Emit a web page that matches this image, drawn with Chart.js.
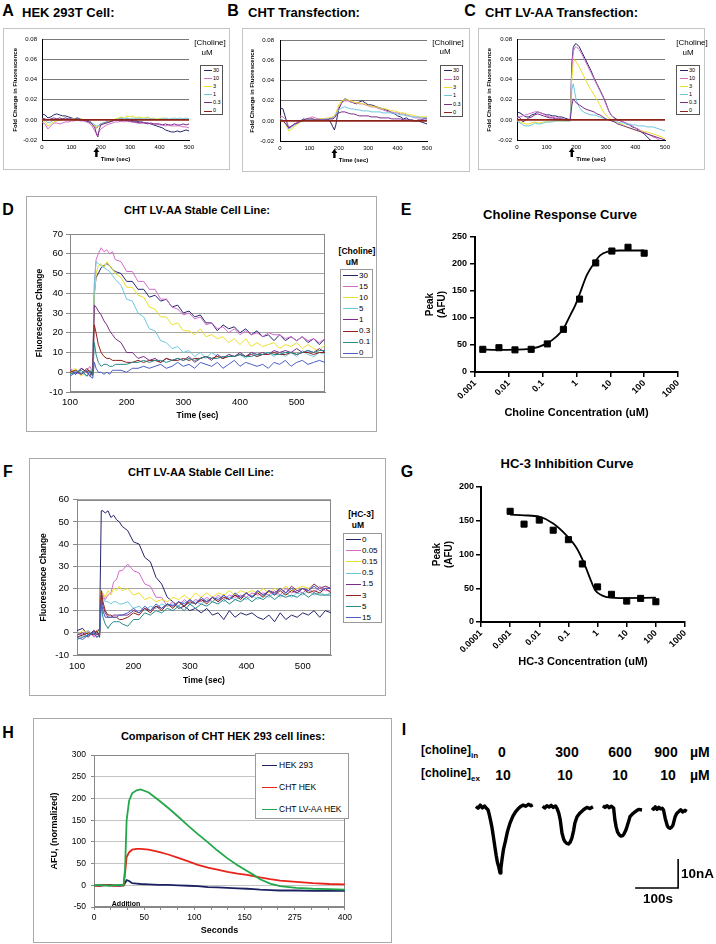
<!DOCTYPE html>
<html>
<head>
<meta charset="utf-8">
<script src="https://cdn.jsdelivr.net/npm/chart.js@4.4.1/dist/chart.umd.min.js"></script>
<style>
  body { margin: 0; background: #fff; }
  #page { position: relative; width: 716px; height: 944px; overflow: hidden; font-family: 'Liberation Sans', Arial, sans-serif; color: #000; }
  .box { position: absolute; border: 1px solid #c4c4c4; box-sizing: border-box; }
  canvas { position: absolute; }
  .t { position: absolute; white-space: nowrap; line-height: 1; }
  .c { transform: translate(-50%, -50%); }
  .l { transform: translate(0, -50%); }
  .b { font-weight: bold; }
  .legend { position: absolute; background: #fff; box-sizing: border-box; }
  .lrow { display: flex; align-items: center; white-space: nowrap; line-height: 1; }
  .ls { display: inline-block; height: 0; }
  sub { font-size: 8px; vertical-align: -4px; }
</style>
</head>
<body>
<div id="page">
  <!-- panel frames -->
  <div class="box" style="left:3px;top:28px;width:227px;height:142px"></div>
  <div class="box" style="left:242px;top:28px;width:228px;height:144px"></div>
  <div class="box" style="left:478px;top:28px;width:227px;height:142px"></div>
  <div class="box" style="left:26px;top:196px;width:351px;height:236px;border-color:#aaa"></div>
  <div class="box" style="left:29px;top:458px;width:357px;height:238px;border-color:#aaa"></div>
  <div class="box" style="left:33px;top:718px;width:359px;height:225px;border-color:#aaa"></div>

  <canvas id="chartA" width="222" height="136" style="left:6px;top:31px"></canvas>
  <canvas id="chartB" width="222" height="138" style="left:244px;top:31px"></canvas>
  <canvas id="chartC" width="222" height="136" style="left:481px;top:31px"></canvas>
  <canvas id="chartD" width="306" height="205" style="left:28px;top:225px"></canvas>
  <canvas id="chartE" width="290" height="200" style="left:422px;top:226px"></canvas>
  <canvas id="chartF" width="310" height="204" style="left:30px;top:490px"></canvas>
  <canvas id="chartG" width="290" height="195" style="left:422px;top:477px"></canvas>
  <canvas id="chartH" width="320" height="196" style="left:35px;top:745px"></canvas>
  <canvas id="chartI" width="296" height="150" style="left:420px;top:790px"></canvas>

  <!-- panel letters and titles -->
  <div class="t c b" style="left:8px;top:11px;font-size:16px">A</div>
  <div class="t l b" style="left:22px;top:12px;font-size:13px">HEK 293T Cell:</div>
  <div class="t c b" style="left:233px;top:11px;font-size:16px">B</div>
  <div class="t l b" style="left:248px;top:12px;font-size:13px">CHT Transfection:</div>
  <div class="t c b" style="left:470px;top:11px;font-size:16px">C</div>
  <div class="t l b" style="left:485px;top:12px;font-size:13px">CHT LV-AA Transfection:</div>

  <div class="t c b" style="left:8px;top:210px;font-size:16px">D</div>
  <div class="t c b" style="left:197px;top:210px;font-size:11px">CHT LV-AA Stable Cell Line:</div>
  <div class="t c b" style="left:406px;top:210px;font-size:16px">E</div>
  <div class="t c b" style="left:560px;top:214px;font-size:13px">Choline Response Curve</div>
  <div class="t c b" style="left:8px;top:472px;font-size:16px">F</div>
  <div class="t c b" style="left:201px;top:472px;font-size:11px">CHT LV-AA Stable Cell Line:</div>
  <div class="t c b" style="left:407px;top:472px;font-size:16px">G</div>
  <div class="t c b" style="left:567px;top:463px;font-size:13px">HC-3 Inhibition Curve</div>
  <div class="t c b" style="left:8px;top:733px;font-size:16px">H</div>
  <div class="t c b" style="left:223px;top:736px;font-size:11px">Comparison of CHT HEK 293 cell lines:</div>
  <div class="t c b" style="left:404px;top:730px;font-size:16px">I</div>

  <!-- legend headings -->
  <div class="t c" style="left:210px;top:43px;font-size:8px">[Choline]</div>
  <div class="t c" style="left:207px;top:53px;font-size:8px">uM</div>
  <div class="t c" style="left:448px;top:43px;font-size:8px">[Choline]</div>
  <div class="t c" style="left:445px;top:52px;font-size:8px">uM</div>
  <div class="t c" style="left:692px;top:43px;font-size:8px">[Choline]</div>
  <div class="t c" style="left:688px;top:53px;font-size:8px">uM</div>
  <div class="t c b" style="left:357px;top:251px;font-size:8.5px">[Choline]</div>
  <div class="t c b" style="left:352px;top:262px;font-size:8.5px">uM</div>
  <div class="t c b" style="left:361px;top:514px;font-size:8.5px">[HC-3]</div>
  <div class="t c b" style="left:358px;top:525px;font-size:8.5px">uM</div>

  <div id="legA" class="legend" style="left:200px;top:65px;width:23px;height:50px;border:1px solid #555"></div>
  <div id="legB" class="legend" style="left:440px;top:65px;width:23px;height:52px;border:1px solid #555"></div>
  <div id="legC" class="legend" style="left:676px;top:65px;width:24px;height:50px;border:1px solid #555"></div>
  <div id="legD" class="legend" style="left:340px;top:269px;width:33px;height:89px;border:1px solid #999"></div>
  <div id="legF" class="legend" style="left:343px;top:533px;width:39px;height:90px;border:1px solid #999"></div>
  <div id="legH" class="legend" style="left:255px;top:753px;width:94px;height:66px;border:1px solid #999"></div>

  <div class="t c b" style="left:126px;top:903px;font-size:7px">Addition</div>

  <!-- panel I labels -->
  <div class="t l b" style="left:421px;top:752px;font-size:12px">[choline]<sub>in</sub></div>
  <div class="t c b" style="left:502px;top:752px;font-size:14px">0</div>
  <div class="t c b" style="left:567px;top:752px;font-size:14px">300</div>
  <div class="t c b" style="left:620px;top:752px;font-size:14px">600</div>
  <div class="t c b" style="left:666px;top:752px;font-size:14px">900</div>
  <div class="t l b" style="left:690px;top:752px;font-size:14px">&micro;M</div>
  <div class="t l b" style="left:421px;top:775px;font-size:12px">[choline]<sub>ex</sub></div>
  <div class="t c b" style="left:503px;top:775px;font-size:14px">10</div>
  <div class="t c b" style="left:565px;top:775px;font-size:14px">10</div>
  <div class="t c b" style="left:620px;top:775px;font-size:14px">10</div>
  <div class="t c b" style="left:668px;top:775px;font-size:14px">10</div>
  <div class="t l b" style="left:690px;top:775px;font-size:14px">&micro;M</div>
  <div class="t l b" style="left:681px;top:874px;font-size:13.5px">10nA</div>
  <div class="t c b" style="left:658px;top:899px;font-size:13.5px">100s</div>
</div>

<script>
// ---------- panels A-C: fold change in fluorescence (values in thousandths) ----------
const timeABC = [0,10,20,30,40,50,60,70,80,90,100,110,120,130,140,150,160,170,180,185,190,195,200,210,220,230,240,250,260,270,280,290,300,310,320,330,340,350,360,370,380,390,400,410,420,430,440,450,460,470,480,490,500];
const zeroT = [0, 500];
const zeroV = [0, 0];
const cholineABC = ["30", "10", "3", "1", "0.3", "0"];
const foldTicks = [-0.02, -0.01, 0, 0.01, 0.02, 0.03, 0.04, 0.05, 0.06, 0.07, 0.08];
const timeTicksABC = [0, 100, 200, 300, 400, 500];
const additionTime = 185;

const a30 = [6,5,2,3,5,6,5,4,4,3,2,1,2,1,0,0,-1,-3,-6, -8,-7,-5, -4,-3,-2,-2,-1,0,0,1,0,1,0,-1,-1,-2,-2,-3,-3,-4,-5,-6,-7,-8,-10,-11,-12,-12,-11,-12,-11,-10,-11];
const a10 = [-2,-4,-9,-6,-3,-3,-4,-3,-2,-2,-1,-1,0,-1,-1,-2,-3,-6,-11, -13,-15,-11, -9,-7,-5,-4,-3,-2,-2,-1,-2,-1,-2,-2,-3,-3,-2,-3,-3,-4,-4,-4,-5,-5,-6,-5,-6,-6,-6,-6,-7,-7,-8];
const a3 = [0,-2,-6,-4,-2,-1,0,1,1,0,1,1,0,1,0,-1,-2,-3,-6, -8,-7,-6, -5,-4,-3,-1,0,1,2,3,2,4,3,4,2,3,2,2,3,1,2,1,1,2,1,0,1,0,1,0,1,0,0];
const a1 = [1,0,-3,-2,0,1,0,1,0,1,1,0,1,0,0,-1,-2,-3,-5, -6,-6,-5, -4,-3,-3,-2,-1,0,1,2,1,2,1,2,1,2,1,1,2,1,1,0,1,1,2,1,1,2,1,2,1,2,1];
const a03 = [2,1,0,1,2,1,2,1,2,1,1,0,1,0,0,-1,-2,-4,-8, -14,-17,-9, -5,-4,-3,-2,-1,0,0,-1,0,-1,-1,-2,-2,-3,-3,-3,-4,-3,-4,-4,-4,-5,-4,-5,-5,-4,-5,-5,-4,-5,-4];

const b30 = [13,12,2,-8,-5,-3,-2,0,2,1,1,2,1,2,1,1,1,0,-6, -9,-4,5, 12,18,22,21,19,18,17,19,20,18,16,16,15,14,13,12,11,10,8,7,5,4,2,3,1,1,0,0,-1,-2,-3];
const b10 = [5,4,1,-6,-5,-3,-1,0,1,2,3,4,3,2,2,2,2,3,4, 5,7,10, 14,18,20,20,19,18,18,17,17,16,15,14,14,13,12,11,10,9,9,8,8,7,7,6,5,4,3,3,3,3,3];
const b3 = [3,1,-4,-10,-8,-5,-3,-1,0,1,1,2,1,2,2,2,3,3,4, 5,8,12, 16,20,21,21,20,19,18,18,17,17,15,15,14,14,13,12,12,11,10,10,9,8,8,7,6,6,5,4,4,4,4];
const b1 = [2,1,-3,-8,-6,-4,-2,-1,0,1,1,1,1,1,1,2,2,2,3, 4,6,9, 11,13,14,13,12,12,11,11,10,10,10,9,9,9,9,8,8,8,8,7,7,6,6,5,5,4,4,4,3,3,3];
const b03 = [1,0,-3,-7,-5,-3,-2,0,1,2,2,2,1,1,1,1,1,2,2, 3,5,7, 8,9,9,8,7,7,6,5,5,5,5,4,4,4,3,3,3,3,2,2,2,2,1,1,1,0,0,1,1,2,2];

const c30 = [8,7,5,3,3,5,6,8,7,6,5,5,4,4,3,3,2,1,0, 55,72,75, 76,73,67,61,55,49,42,36,30,24,17,9,4,2,0,-1,-2,-4,-5,-7,-8,-10,-12,-14,-17,-20,-22,-24,-26,-28,-30];
const c10 = [2,3,4,5,6,7,8,8,7,6,4,3,3,2,2,1,1,0,0, 50,68,72, 73,70,65,59,53,47,41,35,29,23,16,9,4,1,0,-1,-2,-3,-5,-6,-8,-9,-11,-12,-14,-15,-17,-18,-20,-22,-24];
const c3 = [0,-2,-3,-4,-4,-3,-2,-3,-3,-2,-2,-2,-1,-1,-1,-1,-1,-1,-1, 40,57,60, 58,53,47,41,35,30,25,20,15,9,5,2,0,-2,-3,-4,-5,-7,-8,-9,-10,-11,-11,-12,-12,-13,-14,-15,-16,-17,-19];
const c1 = [-1,-3,-5,-6,-6,-5,-3,-4,-4,-3,-2,-2,-2,-1,-1,-1,-1,-1,-1, 30,36,28, 20,13,9,7,6,5,5,4,3,2,1,0,-1,-2,-2,-3,-3,-4,-4,-5,-5,-6,-6,-6,-7,-7,-7,-8,-9,-10,-11];
const c03 = [4,2,-2,0,2,3,5,6,5,4,3,2,2,1,1,1,0,0,0, 14,21,19, 17,15,13,11,10,9,8,6,5,3,1,0,-1,-2,-4,-5,-6,-7,-8,-9,-10,-11,-12,-13,-14,-15,-16,-17,-18,-19,-20];

// ---------- panels D and F: stable cell line, fluorescence change ----------
const timeStable = [100,110,120,130,135,140,143,146,150,155,160,165,170,175,180,190,200,210,220,230,240,250,260,270,280,290,300,310,320,330,340,350,360,370,380,390,400,410,420,430,440,450,460,470,480,490,500,510,520,530,540,550];
const stableTimeTicks = [100, 200, 300, 400, 500];
const choline = ["30", "15", "10", "5", "1", "0.3", "0.1", "0"];
const d30 = [1,-1,2,0,1,-1, 40,48,50,53,54,55,54,52,51, 50,46,46,42,42,38,39,36,37,33,34,30,31,28,29,25,25,21,24,22,23,20,22,19,21,18,19,16,19,16,18,16,18,15,17,14,17];
const d15 = [2,0,-1,1,3,0, 45,57,60,63,61,62,60,61,57, 56,51,51,46,46,42,42,37,37,33,32,29,30,27,28,24,25,22,23,20,22,19,21,19,20,18,20,19,19,17,18,16,18,16,17,15,17];
const d10 = [0,2,-2,1,0,-2, 38,50,54,55,53,56,54,52,50, 48,43,43,39,38,33,32,28,28,24,25,21,21,19,22,18,19,17,18,15,17,14,17,13,15,13,14,15,12,14,13,15,12,14,12,11,14];
const d5 = [-1,1,0,-2,1,0, 45,56,55,54,53,52,51,49,47, 44,37,36,30,28,22,21,16,15,12,13,10,11,8,10,7,10,8,7,9,8,9,7,10,8,9,10,8,10,8,10,8,11,9,8,10,9];
const d1 = [1,-1,2,0,-2,1, 34,33,31,29,26,24,21,19,17, 15,10,10,7,8,6,7,5,7,6,7,6,8,5,7,8,6,9,7,9,8,10,8,10,9,10,9,11,10,11,10,12,10,11,10,12,10];
const d03 = [0,1,-1,2,0,-1, 24,20,14,10,8,7,7,6,6, 6,5,5,6,5,6,6,5,7,6,6,7,6,7,7,8,7,8,7,8,8,9,8,9,8,9,9,10,9,9,10,9,10,10,9,10,10];
const d01 = [-1,0,1,-2,0,-2, 15,9,5,3,4,4,3,3,4, 4,4,5,5,6,5,6,6,5,6,7,6,7,6,7,8,7,7,8,8,8,9,8,8,9,9,10,9,9,10,10,9,10,11,10,11,11];
const d0 = [-2,0,-1,1,-2,-3, 5,2,0,0,-1,0,-1,1,1, 1,0,2,2,3,2,3,4,2,3,5,3,4,2,5,4,3,5,2,4,6,3,5,4,3,4,2,5,4,6,3,5,6,4,5,6,5];
const stableTicksD = [-10, 0, 10, 20, 30, 40, 50, 60, 70];

const hc3 = ["0", "0.05", "0.15", "0.5", "1.5", "3", "5", "15"];
const f0 = [1,2,-1,1,0,2, 55,55,54,55,52,53,51,50,48, 46,41,40,34,32,25,22,16,14,11,12,10,11,9,11,8,9,6,10,7,9,8,9,7,6,8,5,9,6,8,7,9,8,10,7,10,9];
const f005 = [0,-1,1,-2,0,-1, 19,17,15,17,18,23,24,28,28, 31,28,27,22,21,16,16,12,14,12,15,13,15,14,16,14,17,15,17,16,17,16,18,17,18,17,19,17,20,18,19,18,20,18,21,19,19];
const f015 = [-1,1,0,-1,1,0, 19,18,16,19,17,20,19,21,19, 20,17,18,15,16,14,15,14,16,15,17,15,18,16,18,16,18,17,19,17,19,18,19,18,20,18,20,19,21,19,20,21,20,22,20,21,20];
const f05 = [0,-2,1,-1,0,-2, 17,16,14,14,13,14,14,13,13, 14,11,12,10,12,11,13,12,13,12,14,13,14,13,15,14,16,14,16,15,16,15,17,15,17,16,18,16,18,16,18,17,19,17,18,17,18];
const f15 = [-1,0,-2,1,-1,0, 17,12,9,7,7,8,8,8,8, 8,10,9,11,10,12,11,13,12,14,12,15,13,15,14,16,14,17,15,17,16,18,16,19,17,19,18,20,18,21,19,20,19,22,20,21,20];
const f3 = [-2,-1,0,-1,1,-2, 19,14,10,8,8,7,7,6,6, 7,9,8,11,9,12,10,13,11,14,12,14,13,15,13,16,14,16,15,17,15,18,16,18,16,19,17,19,17,19,18,20,18,19,18,20,18];
const f5 = [-3,-2,-1,0,-2,-1, 13,7,4,2,4,5,5,5,4, 3,6,6,9,8,10,9,11,10,12,10,13,11,13,12,14,13,15,13,15,14,16,14,16,15,17,15,17,16,17,16,18,16,18,17,17,17];
const f15b = [-2,-3,-1,0,-2,-1, 14,10,7,7,7,7,7,8,8, 9,11,9,12,10,13,11,13,12,14,13,15,13,16,14,16,15,17,15,18,16,18,16,19,17,19,17,20,18,20,18,20,19,21,19,20,20];
const stableTicksF = [-10, 0, 10, 20, 30, 40, 50, 60];

// ---------- panels E and G: dose-response ----------
const eConc = [0.0017, 0.0051, 0.0152, 0.0457, 0.137, 0.41, 1.23, 3.7, 11.1, 33.3, 100];
const ePeak = [42, 45, 41, 42, 52, 79, 135, 202, 224, 231, 220];
const eFitConc = [0.0016, 0.0044, 0.043, 0.126, 0.26, 0.41, 0.65, 0.91, 1.3, 2.0, 3.2, 5.0, 8.7, 19.5, 100];
const eFitPeak = [42, 41, 43, 52, 66, 80, 105, 123, 148, 179, 200, 216, 223, 225, 225];
const eXTicks = [0.001, 0.01, 0.1, 1, 10, 100, 1000];
const eXLabels = ["0.001", "0.01", "0.1", "1", "10", "100", "1000"];
const eYTicks = [0, 50, 100, 150, 200, 250];

const gConc = [0.001, 0.003, 0.01, 0.03, 0.1, 0.3, 1, 3, 10, 30, 100];
const gPeak = [164, 145, 151, 136, 122, 86, 52, 41, 31, 35, 30];
const gFitConc = [0.001, 0.003, 0.01, 0.03, 0.087, 0.195, 0.33, 0.56, 0.83, 1.4, 2.7, 6, 100];
const gFitPeak = [159, 158, 156, 146, 128, 109, 89, 64, 47, 39.5, 36, 35.5, 36];
const gXTicks = [0.0001, 0.001, 0.01, 0.1, 1, 10, 100, 1000];
const gXLabels = ["0.0001", "0.001", "0.01", "0.1", "1", "10", "100", "1000"];
const gYTicks = [0, 50, 100, 150, 200];

// ---------- panel H: cell line comparison (x in axis-label intervals) ----------
const hPos = [0,0.1,0.2,0.3,0.4,0.5,0.59,0.62,0.65,0.70,0.76,0.85,0.93,1.09,1.29,1.48,1.68,1.88,2.07,2.27,2.46,2.66,2.86,3.05,3.18,3.31,3.51,3.71,4.03,4.36,4.69,5.0];
const hHek = [0,-1,0,1,0,-1,0, 5,12,10,5,4,3,2,1,1,0,-1,-2,-4,-5,-6,-7,-8,-9,-10,-11,-12,-12,-13,-13,-13];
const hCht = [0,-1,1,0,-1,0,0, 30,65,76,82,84,84,82,77,71,63,55,47,41,36,31,27,24,21,18,14,11,8,5,3,2];
const hLvaa = [0,1,0,-1,0,1,0, 40,150,195,212,219,221,214,196,178,158,137,118,99,80,62,46,33,24,14,4,-2,-6,-8,-9,-10];
const hNames = ["HEK 293", "CHT HEK", "CHT LV-AA HEK"];
const hXLabels = ["0", "50", "100", "150", "275", "400"];
const hYTicks = [-50, 0, 50, 100, 150, 200, 250, 300];

// ---------- panel I: currents (s, nA) ----------
const i1T = [130,135,140,145,150,155,158,161,164,167,170,174,177,180,183,186,188,191,194,198,203,209,216,222,228,234,240,246,252,258,262];
const i1A = [0.3,-0.3,0.8,-0.2,0.5,-0.4,-0.8,-2.5,-4.5,-6.7,-9.5,-13.6,-16.5,-19,-20.5,-22.6,-21,-17.5,-14.5,-12,-8.5,-5.5,-3,-1.5,-0.5,0.3,0.8,0.4,1.1,0.6,0.9];
const i2T = [285,290,295,300,305,310,315,319,323,326,330,334,337,341,345,349,353,357,360,365,372,380,388,395,402];
const i2A = [0.4,-0.2,0.6,0.1,0.7,0,0.5,-0.5,-2.2,-4.3,-8.8,-11,-11.8,-12.4,-12.6,-12,-10.6,-8,-5.4,-3.2,-1.9,-0.8,0,-0.4,0.2];
const i3T = [425,430,435,440,445,450,453,456,459,463,467,471,474,478,481,485,488,494,500,508,516];
const i3A = [0.5,0,0.6,-0.1,0.4,-0.2,-4.3,-6.8,-8.4,-9.4,-9.9,-9.7,-9.2,-8,-6.7,-4.8,-3.2,-2.2,-1.5,-0.7,-0.9];
const i4T = [539,543,547,551,555,559,563,566,570,575,578,581,585,588,593,597,601,606,611,616,620];
const i4A = [-0.1,-0.6,0.2,-0.7,0,-0.5,-0.3,-0.9,-3.8,-6.4,-7,-7.2,-6.8,-6.1,-3.2,-2,-1.5,-0.8,-1.6,-1,-1.4];
const scaleBarSec = 100;
const scaleBarNA = 10;
const scaleBarCorner = { t: 600, nA: -27.8 };

const NAVY = "#25256e", PINK = "#d46ccc", YELLOW = "#ebdf2a", CYAN = "#6ec6dc", PURPLE = "#7a2c88";
const DARKRED = "#8c2218", TEAL = "#2a8a8c", BLUE = "#4a5ec4";
const colorsABC = [NAVY, PINK, YELLOW, CYAN, PURPLE, DARKRED];
const colorsStable = [NAVY, PINK, YELLOW, CYAN, PURPLE, DARKRED, TEAL, BLUE];
const colorsH = ["#1c2260", "#e8241c", "#22a84a"];

Chart.defaults.font.family = "'Liberation Sans', Arial, sans-serif";
Chart.defaults.color = "#000";
Chart.defaults.animation = false;
Chart.defaults.responsive = false;
Chart.defaults.plugins.legend.display = false;
Chart.defaults.plugins.tooltip.enabled = false;

const plotFrame = {
  id: "plotFrame",
  beforeDatasetsDraw(chart, args, opts) {
    if (!opts || !opts.color) return;
    const a = chart.chartArea;
    const ctx = chart.ctx;
    ctx.save();
    ctx.strokeStyle = opts.color;
    ctx.lineWidth = 1;
    ctx.strokeRect(Math.round(a.left) + 0.5, Math.round(a.top) + 0.5, Math.round(a.width) - 1, Math.round(a.height) - 1);
    ctx.restore();
  },
};

// small black arrow under the time axis marking choline addition
const addArrow = {
  id: "addArrow",
  afterDraw(chart, args, opts) {
    if (!opts || opts.at == null) return;
    const ctx = chart.ctx;
    const x = chart.scales.x.getPixelForValue(opts.at);
    const y = chart.chartArea.bottom + 8;
    ctx.save();
    ctx.fillStyle = "#000";
    ctx.beginPath();
    ctx.moveTo(x, y);
    ctx.lineTo(x - 3, y + 4);
    ctx.lineTo(x + 3, y + 4);
    ctx.closePath();
    ctx.fill();
    ctx.fillRect(x - 1.2, y + 4, 2.4, 5);
    ctx.restore();
  },
};
Chart.register(plotFrame, addArrow);

function fixedTicks(values) {
  return (scale) => { scale.ticks = values.map((v) => ({ value: v })); };
}

function traceChart(id, series, cfg) {
  const datasets = series.map((s, i) => ({
    data: s.t.map((t, k) => ({ x: t, y: s.v[k] * (cfg.unit || 1) })),
    borderColor: s.color,
    borderWidth: s.width || cfg.lineWidth || 1,
    pointRadius: 0,
    tension: 0,
    order: -i,
  }));
  return new Chart(document.getElementById(id), {
    type: "line",
    data: { datasets },
    options: {
      layout: { padding: { top: cfg.padTop, right: cfg.padRight, left: 0, bottom: 0 } },
      plugins: { plotFrame: { color: cfg.frame }, addArrow: { at: cfg.arrowAt } },
      scales: {
        x: {
          type: "linear", min: cfg.x.min, max: cfg.x.max,
          afterBuildTicks: fixedTicks(cfg.x.ticks),
          afterFit: (s) => { s.height = cfg.xH; },
          ticks: { font: { size: cfg.tickSize }, padding: cfg.xPad, maxRotation: 0, autoSkip: false, callback: cfg.x.fmt || ((v) => String(v)) },
          grid: { drawOnChartArea: false, drawTicks: !!cfg.x.tl, tickLength: cfg.x.tl || 0, color: cfg.axis },
          border: { display: true, color: cfg.axis },
          title: { display: true, text: cfg.x.title, font: { size: cfg.titleSize, weight: "bold" }, padding: { top: 0, bottom: cfg.x.titlePad } },
        },
        y: {
          type: "linear", min: cfg.y.min, max: cfg.y.max,
          afterBuildTicks: fixedTicks(cfg.y.ticks),
          afterFit: (s) => { s.width = cfg.yW; },
          ticks: { font: { size: cfg.tickSize }, padding: cfg.yPad, callback: cfg.y.fmt || ((v) => String(v)) },
          grid: { color: cfg.grid, lineWidth: 1, drawTicks: !!cfg.y.tl, tickLength: cfg.y.tl || 0, tickColor: cfg.axis },
          border: { display: true, color: cfg.axis },
          title: { display: true, text: cfg.y.title, font: { size: cfg.titleSize, weight: "bold" }, padding: { top: cfg.y.titlePad, bottom: 0 } },
        },
      },
    },
  });
}

function legend(boxId, labels, colors, o) {
  const box = document.getElementById(boxId);
  box.style.paddingTop = (o.top || 0) + "px";
  labels.forEach((lab, i) => {
    const row = document.createElement("div");
    row.className = "lrow";
    row.style.height = o.rowH + "px";
    row.innerHTML = `<span class="ls" style="width:${o.sampleW}px;margin-left:${o.sampleX}px;border-top:${o.lw}px solid ${colors[i]}"></span>` +
      `<span style="font-size:${o.font}px;margin-left:${o.gap}px">${lab}</span>`;
    box.appendChild(row);
  });
}

// ----- A, B, C -----
function abcSeries(v30, v10, v3, v1, v03) {
  return [v30, v10, v3, v1, v03].map((v, i) => ({ t: timeABC, v, color: colorsABC[i] }))
    .concat([{ t: zeroT, v: zeroV, color: DARKRED, width: 1.8 }]);
}
function abcConfig(padRight, xH, yTitlePad, xTitlePad, yPad) {
  return {
    unit: 0.001, padTop: 8, padRight, yW: 36, xH, tickSize: 6, titleSize: 6,
    grid: "#7a7a7a", axis: "#000", arrowAt: additionTime, xPad: 4, yPad,
    x: { min: 0, max: 500, ticks: timeTicksABC, title: "Time (sec)", titlePad: xTitlePad },
    y: { min: -0.02, max: 0.08, ticks: foldTicks, fmt: (v) => v.toFixed(2), title: "Fold Change in Fluorescence", titlePad: yTitlePad },
  };
}
traceChart("chartA", abcSeries(a30, a10, a3, a1, a03), abcConfig(39, 27, 5.4, 4.4, 5));
traceChart("chartB", abcSeries(b30, b10, b3, b1, b03), abcConfig(39, 28, 4.4, 4.7, 6));
traceChart("chartC", abcSeries(c30, c10, c3, c1, c03), abcConfig(38, 27, 4.7, 4.1, 5));
legend("legA", cholineABC, colorsABC, { rowH: 8.1, top: 0.5, sampleX: 3, sampleW: 8, lw: 1, gap: 1, font: 5.5 });
legend("legB", cholineABC, colorsABC, { rowH: 8.4, top: 0.5, sampleX: 3, sampleW: 8, lw: 1, gap: 1, font: 5.5 });
legend("legC", cholineABC, colorsABC, { rowH: 8.1, top: 0.5, sampleX: 3, sampleW: 8, lw: 1, gap: 1, font: 5.5 });

// ----- D, F -----
const stableBase = {
  padTop: 9, padRight: 9, tickSize: 9.5, titleSize: 8.5, grid: "#a6a6a6", axis: "#888", frame: "#888",
};
traceChart("chartD", [d30, d15, d10, d5, d1, d03, d01, d0].map((v, i) => ({ t: timeStable, v, color: colorsStable[i] })), {
  ...stableBase, yW: 42, xH: 38, xPad: 5, yPad: 3,
  x: { min: 100, max: 550, ticks: stableTimeTicks, title: "Time (sec)", titlePad: 8.9 },
  y: { min: -10, max: 70, ticks: stableTicksD, tl: 4, title: "Fluorescence Change", titlePad: 6.9 },
});
traceChart("chartF", [f0, f005, f015, f05, f15, f3, f5, f15b].map((v, i) => ({ t: timeStable, v, color: colorsStable[i] })), {
  ...stableBase, yW: 47, xH: 39, xPad: 6, yPad: 4,
  x: { min: 100, max: 550, ticks: stableTimeTicks, title: "Time (sec)", titlePad: 7.9 },
  y: { min: -10, max: 60, ticks: stableTicksF, tl: 4, title: "Fluorescence Change", titlePad: 8.2 },
});
legend("legD", choline, colorsStable, { rowH: 11.1, top: 0, sampleX: 2, sampleW: 15, lw: 1.2, gap: 1, font: 8 });
legend("legF", hc3, colorsStable, { rowH: 11.2, top: 0, sampleX: 2, sampleW: 15, lw: 1.2, gap: 1, font: 8 });

// ----- H -----
const hTickPos = [];
hXLabels.forEach((_, i) => { hTickPos.push(i); if (i < hXLabels.length - 1) hTickPos.push(i + 1 / 3, i + 2 / 3); });
traceChart("chartH", [hHek, hCht, hLvaa].map((v, i) => ({ t: hPos, v, color: colorsH[i], width: 1.8 })), {
  padTop: 8, padRight: 6, yW: 59, xH: 34, tickSize: 8.5, titleSize: 9, grid: "#c4c4c4", axis: "#888", frame: "#888",
  xPad: 3, yPad: 5,
  x: { min: 0, max: hXLabels.length - 1, ticks: hTickPos, tl: 3, fmt: (v, i) => (i % 3 === 0 ? hXLabels[i / 3] : ""), title: "Seconds", titlePad: 4.6 },
  y: { min: -50, max: 300, ticks: hYTicks, tl: 3, title: "AFU, (normalized)", titlePad: 14.6 },
});
legend("legH", hNames, colorsH, { rowH: 22, top: 0, sampleX: 6, sampleW: 15, lw: 1.8, gap: 2, font: 8.5 });

// ----- E, G -----
function doseChart(id, conc, peak, fitConc, fitPeak, cfg) {
  const axisGrid = { drawOnChartArea: false, drawTicks: true, tickLength: 5, color: "#000", lineWidth: 1.5 };
  return new Chart(document.getElementById(id), {
    type: "scatter",
    data: {
      datasets: [
        { data: conc.map((c, i) => ({ x: c, y: peak[i] })), pointStyle: "rect", pointRadius: 4.3, backgroundColor: "#000", borderColor: "#000", showLine: false },
        { data: fitConc.map((c, i) => ({ x: c, y: fitPeak[i] })), showLine: true, pointRadius: 0, borderColor: "#000", borderWidth: 1.8, cubicInterpolationMode: "monotone" },
      ],
    },
    options: {
      layout: { padding: { top: cfg.padTop, right: cfg.padRight, left: 0, bottom: 0 } },
      scales: {
        x: {
          type: "logarithmic", min: cfg.xTicks[0], max: cfg.xTicks[cfg.xTicks.length - 1],
          afterBuildTicks: fixedTicks(cfg.xTicks),
          afterFit: (s) => { s.height = cfg.xH; },
          ticks: { autoSkip: false, minRotation: 45, maxRotation: 45, font: { size: 9, weight: "bold" }, padding: 1, callback: (v, i) => cfg.xLabels[i] },
          grid: axisGrid,
          border: { color: "#000", width: 2 },
          title: { display: true, text: cfg.xTitle, font: { size: 11, weight: "bold" }, padding: { top: 0, bottom: cfg.xTitlePad } },
        },
        y: {
          min: 0, max: cfg.yTicks[cfg.yTicks.length - 1],
          afterBuildTicks: fixedTicks(cfg.yTicks),
          afterFit: (s) => { s.width = cfg.yW; },
          ticks: { font: { size: 9, weight: "bold" }, padding: cfg.yPad },
          grid: axisGrid,
          border: { color: "#000", width: 2 },
          title: { display: true, text: ["Peak", "(AFU)"], font: { size: 10, weight: "bold" }, padding: { top: cfg.yTitlePad, bottom: 0 } },
        },
      },
    },
  });
}
doseChart("chartE", eConc, ePeak, eFitConc, eFitPeak, {
  padTop: 11, padRight: 34, yW: 53, xH: 54, yPad: 3, yTitlePad: 2, xTitlePad: 6.4,
  xTicks: eXTicks, xLabels: eXLabels, yTicks: eYTicks, xTitle: "Choline Concentration (uM)",
});
doseChart("chartG", gConc, gPeak, gFitConc, gFitPeak, {
  padTop: 10, padRight: 27, yW: 59, xH: 50, yPad: 2, yTitlePad: 9, xTitlePad: 3.4,
  xTicks: gXTicks, xLabels: gXLabels, yTicks: gYTicks, xTitle: "HC-3 Concentration (uM)",
});

// ----- I -----
const traceSets = [[i1T, i1A], [i2T, i2A], [i3T, i3A], [i4T, i4A]].map(([T, A]) => ({
  data: T.map((t, k) => ({ x: t, y: A[k] })), borderColor: "#000", borderWidth: 3.4, pointRadius: 0, borderJoinStyle: "round",
}));
traceSets.push({
  data: [
    { x: scaleBarCorner.t - scaleBarSec, y: scaleBarCorner.nA },
    { x: scaleBarCorner.t, y: scaleBarCorner.nA },
    { x: scaleBarCorner.t, y: scaleBarCorner.nA + scaleBarNA },
  ],
  borderColor: "#000", borderWidth: 1.6, pointRadius: 0,
});
new Chart(document.getElementById("chartI"), {
  type: "line",
  data: { datasets: traceSets },
  options: {
    layout: { padding: 0 },
    scales: {
      x: { type: "linear", display: false, min: 0, max: 688 },
      y: { display: false, min: -45.7, max: 6 },
    },
  },
});
</script>
</body>
</html>
